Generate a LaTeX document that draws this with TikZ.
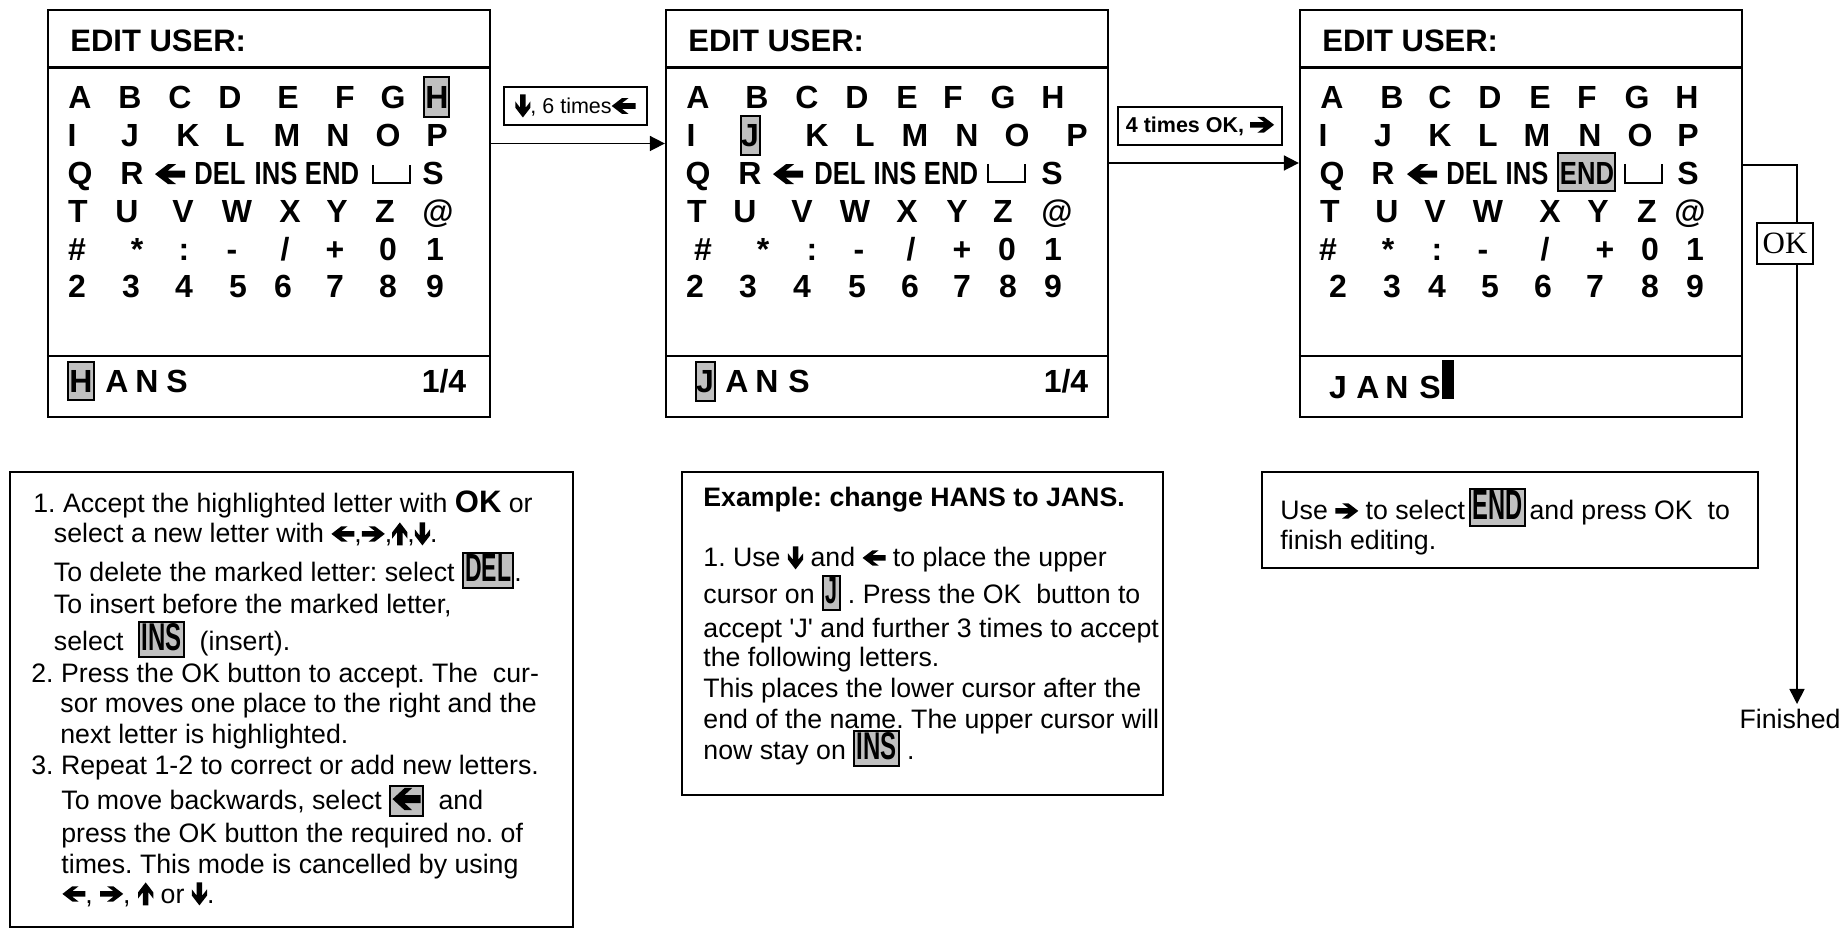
\documentclass[tikz,border=0pt]{standalone}
\usepackage{fontspec}
\usepackage{graphicx}
\setmainfont{Liberation Sans}
\newfontfamily\narrowfont{Liberation Sans}[FakeStretch=0.8]
\newfontfamily\seriffont{Liberation Serif}
\usetikzlibrary{arrows.meta}
\frenchspacing
\definecolor{hlgray}{HTML}{C0C0C0}
\newcommand\slsh{/}
% heavy arrow glyph: #1 rotation, #2 size
\newcommand\harr[2]{\tikz[x=#2,y=#2,baseline=-0.34em]\fill[rotate=#1] (-0.5,0.117) -- (0.077,0.117) -- (-0.2,0.33) -- (0.07,0.33) -- (0.5,0) -- (0.07,-0.33) -- (-0.2,-0.33) -- (0.077,-0.117) -- (-0.5,-0.117) -- cycle;}
\newcommand\rar[1][11.5pt]{\harr{0}{#1}}
\newcommand\lar[1][11.5pt]{\harr{180}{#1}}
\newcommand\uar[1][11.5pt]{\harr{90}{#1}}
\newcommand\dar[1][11.5pt]{\harr{-90}{#1}}
\newcommand\hlb[3]{{\setlength\fboxsep{0.6pt}\setlength\fboxrule{1pt}\fcolorbox{black}{hlgray}{\rule[-2pt]{0pt}{1pt}\resizebox{#1}{#2}{#3}}}}
\tikzset{
  scr/.style={draw, line width=1.15pt, minimum width=221pt, minimum height=203.5pt, inner sep=0pt},
  sep/.style={line width=1.15pt},
  ch/.style={font=\fontsize{16}{19}\selectfont\bfseries, anchor=base, inner sep=0pt},
  nar/.style={font=\narrowfont\fontsize{16}{19}\selectfont\bfseries, anchor=base, inner sep=0pt},
  ttl/.style={font=\fontsize{15.5}{19}\selectfont\bfseries, anchor=base west, inner sep=0pt},
  hlrect/.style={draw, fill=hlgray, line width=1pt},
  spc/.style={line width=1pt},
  txt/.style={font=\fontsize{13.35}{16}\selectfont, anchor=base west, inner sep=0pt},
  tbox/.style={draw, line width=1pt, inner sep=0pt},
  lbl/.style={draw, line width=1pt, inner sep=0pt, minimum height=19pt, font=\fontsize{10.75}{13}\selectfont},
  conn/.style={line width=0.85pt, -{Triangle[length=7.5pt,width=7.5pt]}},
}
\begin{document}
\begin{tikzpicture}[x=0.5pt,y=-0.5pt]
\useasboundingbox (0,0) rectangle (1842,929);

% ---------------- screens ----------------
\node[scr] (S1) at (269,213.5) {};
\node[scr] (S2) at (887,213.5) {};
\node[scr] (S3) at (1521,213.5) {};
\foreach \s in {S1,S2,S3}{
  \draw[sep] (\s.west |- 0,67.5) -- (\s.east |- 0,67.5);
  \draw[sep] (\s.west |- 0,356) -- (\s.east |- 0,356);
}

% highlight rectangles
\draw[hlrect] (424,77) rectangle (449,117);
\draw[hlrect] (68,362) rectangle (94,400);
\draw[hlrect] (741,116) rectangle (760,155);
\draw[hlrect] (696,362) rectangle (715,401);
\draw[hlrect] (1558,153) rectangle (1615,191);
\fill (1442,360) rectangle (1454,399);

% titles
\node[ttl] (t1) at (70,52) {EDIT USER:};
\node[ttl] (t2) at (688,52) {EDIT USER:};
\node[ttl] (t3) at (1322,52) {EDIT USER:};

% ---- screen 1 ----
\foreach \x/\c in {80/A,130/B,180/C,230/D,288/E,345/F,393/G,437/H}
  \node[ch] (s1a\x) at (\x,109) {\c};
\foreach \x/\c in {72/I,130/J,188/K,235/L,287/M,338/N,388/O,437/P}
  \node[ch] (s1b\x) at (\x,147) {\c};
\node[ch] (s1q) at (80,185) {Q};
\node[ch] (s1r) at (132,185) {R};
\node[ch] (s1l) at (170,185) {\lar[15pt]};
\node[nar] (s1del) at (220,185) {DEL};
\node[nar] (s1ins) at (276,185) {INS};
\node[nar] (s1end) at (332,185) {END};
\draw[spc] (373,165) |- (410,183) -- (410,165);
\node[ch] (s1s) at (433,185) {S};
\foreach \x/\c in {78/T,127/U,183/V,237/W,290/X,337/Y,385/Z,438/@}
  \node[ch] (s1d\x) at (\x,223) {\c};
\foreach \x/\c in {77/\#,137/*,184/:,232/-,285/\slsh,335/+,388/0,435/1}
  \node[ch] (s1e\x) at (\x,261) {\c};
\foreach \x/\c in {77/2,131/3,184/4,238/5,283/6,335/7,388/8,435/9}
  \node[ch] (s1f\x) at (\x,298) {\c};
\foreach \x/\c in {81/H,117/A,147/N,177/S}
  \node[ch] (s1n\x) at (\x,393) {\c};
\node[ch] (s1p) at (444,393) {1/4};

% ---- screen 2 ----
\foreach \x/\c in {698/A,757/B,807/C,857/D,907/E,953/F,1003/G,1053/H}
  \node[ch] (s2a\x) at (\x,109) {\c};
\foreach \x/\c in {691/I,750/J,817/K,865/L,915/M,967/N,1017/O,1077/P}
  \node[ch] (s2b\x) at (\x,147) {\c};
\node[ch] (s2q) at (698,185) {Q};
\node[ch] (s2r) at (750,185) {R};
\node[ch] (s2l) at (788,185) {\lar[15pt]};
\node[nar] (s2del) at (840,185) {DEL};
\node[nar] (s2ins) at (895,185) {INS};
\node[nar] (s2end) at (951,185) {END};
\draw[spc] (988,164) |- (1025,182) -- (1025,164);
\node[ch] (s2s) at (1052,185) {S};
\foreach \x/\c in {697/T,745/U,802/V,855/W,907/X,957/Y,1003/Z,1057/@}
  \node[ch] (s2d\x) at (\x,223) {\c};
\foreach \x/\c in {703/\#,763/*,812/:,859/-,911/\slsh,962/+,1007/0,1053/1}
  \node[ch] (s2e\x) at (\x,261) {\c};
\foreach \x/\c in {695/2,748/3,802/4,857/5,910/6,962/7,1008/8,1053/9}
  \node[ch] (s2f\x) at (\x,298) {\c};
\foreach \x/\c in {705/J,737/A,767/N,799/S}
  \node[ch] (s2n\x) at (\x,393) {\c};
\node[ch] (s2p) at (1066,393) {1/4};

% ---- screen 3 ----
\foreach \x/\c in {1332/A,1392/B,1440/C,1490/D,1540/E,1587/F,1637/G,1687/H}
  \node[ch] (s3a\x) at (\x,109) {\c};
\foreach \x/\c in {1323/I,1383/J,1440/K,1488/L,1537/M,1590/N,1640/O,1688/P}
  \node[ch] (s3b\x) at (\x,147) {\c};
\node[ch] (s3q) at (1332,185) {Q};
\node[ch] (s3r) at (1383,185) {R};
\node[ch] (s3l) at (1422,185) {\lar[15pt]};
\node[nar] (s3del) at (1472,185) {DEL};
\node[nar] (s3ins) at (1527,185) {INS};
\node[nar] (s3end) at (1587,185) {END};
\draw[spc] (1625,164) |- (1662,183) -- (1662,164);
\node[ch] (s3s) at (1688,185) {S};
\foreach \x/\c in {1330/T,1387/U,1435/V,1488/W,1550/X,1598/Y,1647/Z,1690/@}
  \node[ch] (s3d\x) at (\x,223) {\c};
\foreach \x/\c in {1328/\#,1388/*,1437/:,1483/-,1545/\slsh,1605/+,1650/0,1695/1}
  \node[ch] (s3e\x) at (\x,261) {\c};
\foreach \x/\c in {1338/2,1392/3,1437/4,1490/5,1543/6,1595/7,1650/8,1695/9}
  \node[ch] (s3f\x) at (\x,298) {\c};
\foreach \x/\c in {1338/J,1368/A,1397/N,1430/S}
  \node[ch] (s3n\x) at (\x,399) {\c};

% ---------------- connectors ----------------
\coordinate (a1s) at (490,143.5);
\draw[conn] (a1s) -- (a1s -| S2.west);
\node[lbl, minimum width=71.5pt] (lab1) at (575.5,106) {\dar[11.5pt], 6 times\lar[12pt]};

\coordinate (a2s) at (1108,163);
\draw[conn] (a2s) -- (a2s -| S3.west);
\node[lbl, minimum width=82pt, font=\fontsize{10.75}{13}\selectfont\bfseries] (lab2) at (1200,126) {4 times OK, \rar[12pt]};

\coordinate (a3s) at (1742,165);
\coordinate (a3c) at (1797,165);
\coordinate (a3e) at (1797,704);
\draw[conn] (a3s) -- (a3c) -- (a3e);
\node[draw, fill=white, line width=1pt, inner sep=0pt, minimum width=28pt, minimum height=20.5pt, font=\seriffont\fontsize{15.5}{18}\selectfont] (okl) at (1785,243.5) {OK};
\node[font=\fontsize{13.35}{16}\selectfont, inner sep=0pt] (fin) at (1790,719) {Finished};

% ---------------- text boxes ----------------
\node[tbox, minimum width=281.7pt, minimum height=227.5pt] (T1) at (291.4,699.5) {};
\node[tbox, minimum width=240.5pt, minimum height=161.5pt] (T2) at (922.5,633.5) {};
\node[tbox, minimum width=248pt, minimum height=48pt] (T3) at (1510,520) {};

\node[txt] (b1l1) at (33,513) {1. Accept the highlighted letter with {\fontsize{15.5}{18}\selectfont\bfseries OK} or};
\node[txt] (b1l2) at (53.5,543) {select a new letter with \lar,\rar,\uar,\dar.};
\node[txt] (b1l3) at (53.5,582) {To delete the marked letter: select \hlb{23pt}{13.5pt}{\bfseries DEL}.};
\node[txt] (b1l4) at (53.5,614) {To insert before the marked letter,};
\node[txt] (b1l5) at (53.5,651) {select\ \ \hlb{20pt}{13.5pt}{\bfseries INS}\ \ (insert).};
\node[txt] (b1l6) at (31,683) {2. Press the OK button to accept. The\ \ cur-};
\node[txt] (b1l7) at (60,713) {sor moves one place to the right and the};
\node[txt] (b1l8) at (60,744) {next letter is highlighted.};
\node[txt] (b1l9) at (31,775) {3. Repeat 1-2 to correct or add new letters.};
\node[txt] (b1l10) at (61,810) {To move backwards, select \hlb{14pt}{11pt}{\lar[14pt]}\ \ and};
\node[txt] (b1l11) at (61,842) {press the OK button the required no. of};
\node[txt] (b1l12) at (61,873) {times. This mode is cancelled by using};
\node[txt] (b1l13) at (62,903) {\lar, \rar, \uar{} or \dar.};

\node[txt, font=\fontsize{13.35}{16}\selectfont\bfseries] (b2l1) at (703,507) {Example: change HANS to JANS.};
\node[txt] (b2l2) at (703,567) {1. Use \dar{} and \lar{} to place the upper};
\node[txt] (b2l3) at (703,604) {cursor on \hlb{6pt}{13pt}{\bfseries J} . Press the OK\ \ button to};
\node[txt] (b2l4) at (703,638) {accept \textquotesingle J\textquotesingle{} and further 3 times to accept};
\node[txt] (b2l5) at (703,667) {the following letters.};
\node[txt] (b2l6) at (703,698) {This places the lower cursor after the};
\node[txt] (b2l7) at (703,729) {end of the name. The upper cursor will};
\node[txt] (b2l8) at (703,760) {now stay on \hlb{20pt}{13.5pt}{\bfseries INS} .};

\node[txt] (b3l1) at (1280,520) {Use \rar{} to select\hspace{2pt}\hlb{25pt}{14.5pt}{\bfseries END}\hspace{2pt}and press OK\ \ to};
\node[txt] (b3l2) at (1280,550) {finish editing.};
\end{tikzpicture}
\end{document}
